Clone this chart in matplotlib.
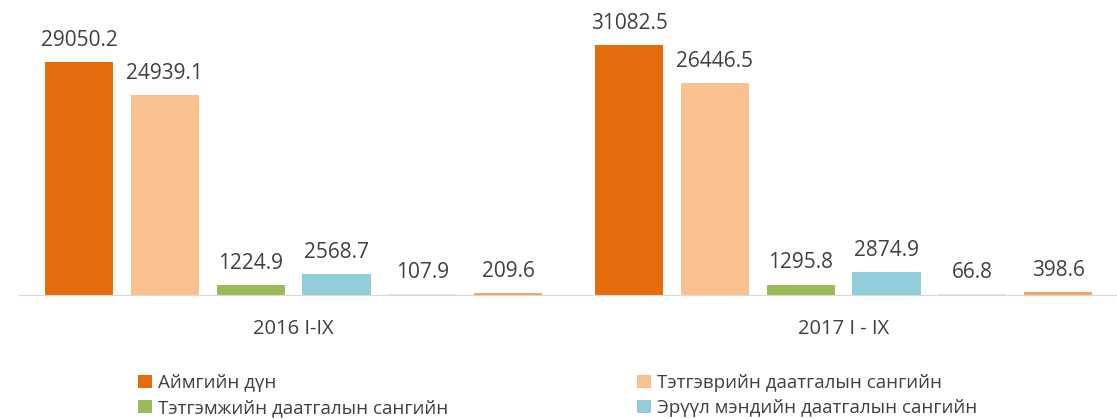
import numpy as np
import matplotlib
matplotlib.use("Agg")
import matplotlib.pyplot as plt

plt.rcParams['font.family'] = ['Open Sans', 'DejaVu Sans']

# data
periods = ["2016 I-IX", "2017 I - IX"]
series_names = [
    "Аймгийн дүн",
    "Тэтгэврийн даатгалын сангийн",
    "Тэтгэмжийн даатгалын сангийн",
    "Эрүүл мэндийн даатгалын сангийн",
    "Ажилгүйдлийн даатгалын сангийн",
    "ҮОМШӨ-ний даатгалын сангийн",
]
values = [
    [29050.2, 31082.5],
    [24939.1, 26446.5],
    [1224.9, 1295.8],
    [2568.7, 2874.9],
    [107.9, 66.8],
    [209.6, 398.6],
]
colors = ["#e46c0a", "#f9c090", "#9bbb59", "#92cddc", "#dce6ea", "#f4a460"]

fig = plt.figure(figsize=(11.17, 4.19), dpi=100)
# axes spans x 18.5..1118.5 px, y 14..295 px (from top)
ax = fig.add_axes([18.5 / 1117, 1 - 295 / 419, 1100 / 1117, 281 / 419])

x = np.arange(len(periods))
width = 0.124
step = 0.156
handles = []
for i, (name, vals) in enumerate(zip(series_names, values)):
    bars = ax.bar(x + (i - 2.5) * step, vals, width, color=colors[i], label=name)
    handles.append(bars)
    for b, v in zip(bars, vals):
        ax.annotate(f"{v:.1f}", (b.get_x() + b.get_width() / 2, v),
                    xytext=(0, 8), textcoords="offset points",
                    ha="center", va="bottom", fontsize=15, color="#404040")

ax.set_xlim(-0.5, 1.5)
ax.set_ylim(0, 35000)
ax.set_xticks(x)
ax.set_xticklabels(periods, fontsize=14.5, color="#404040")
ax.tick_params(axis="x", length=0, pad=17)
ax.set_yticks([])
for s in ["top", "left", "right"]:
    ax.spines[s].set_visible(False)
ax.spines["bottom"].set_color("#d9d9d9")

# legend laid out row-wise like the original (only the visible rows)
leg_kw = dict(frameon=False, fontsize=13.5, handlelength=0.7, handleheight=0.7,
              handletextpad=0.35, labelspacing=0.35, labelcolor="#404040",
              borderpad=0)
left = fig.legend([handles[0], handles[2]],
                  [series_names[0], series_names[2]],
                  loc="upper left", bbox_to_anchor=(129 / 1117, 1 - 365 / 419), **leg_kw)
right = fig.legend([handles[1], handles[3]],
                   [series_names[1], series_names[3]],
                   loc="upper left", bbox_to_anchor=(628 / 1117, 1 - 365 / 419), **leg_kw)

fig.savefig("out.png", dpi=100)
